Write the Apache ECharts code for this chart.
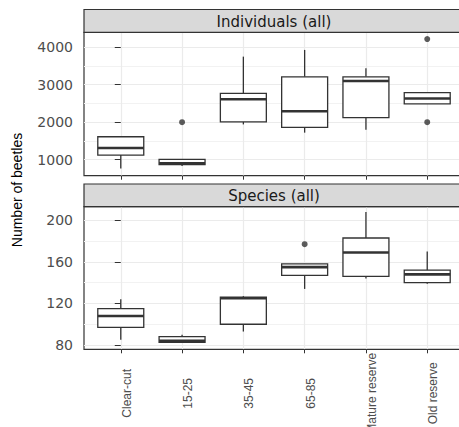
<!DOCTYPE html>
<html><head><meta charset="utf-8">
<script src="https://cdn.jsdelivr.net/npm/echarts@6/dist/echarts.min.js"></script>
<style>html,body{margin:0;padding:0;background:#fff}#c{width:459px;height:427px}</style>
</head><body><div id="c"></div>
<script>
// ---- data ----
const categories = ['Clear-cut', '15-25', '35-45', '65-85', 'Mature reserve', 'Old reserve'];
// [lower whisker, Q1, median, Q3, upper whisker]
const individualsBoxes = [
  [760, 1120, 1310, 1610, 1610],
  [830, 865, 900, 1005, 1005],
  [1940, 2010, 2610, 2770, 3750],
  [1720, 1860, 2290, 3210, 3930],
  [1800, 2120, 3100, 3210, 3440],
  [2490, 2490, 2630, 2790, 2790]
];
const individualsOutliers = [[1, 2000], [5, 4220], [5, 2000]];
const speciesBoxes = [
  [85, 97, 108, 115, 124],
  [82.6, 82.6, 84, 88, 90],
  [93, 100, 125, 126, 127],
  [134, 147, 155, 158, 158],
  [144, 146, 169, 183, 208],
  [139, 140, 148, 152, 170]
];
const speciesOutliers = [[3, 177]];
const individualsTicks = [1000, 2000, 3000, 4000];
const individualsMinor = [1500, 2500, 3500];
const speciesTicks = [80, 120, 160, 200];
const speciesMinor = [100, 140, 180];
const individualsRange = [570, 4400];
const speciesRange = [75.9, 213.1];
const panelTitles = ['Individuals (all)', 'Species (all)'];
const yTitle = 'Number of beetles';

// ---- chart ----
const chart = echarts.init(document.getElementById('c'), null, {renderer: 'svg'});
const DARK = '#333333';
const GRID = '#EBEBEB';

function mainY(gridIndex, range, ticks) {
  return {
    type: 'value', gridIndex, min: range[0], max: range[1],
    axisLine: {show: false},
    axisTick: {show: true, length: 6, customValues: ticks, lineStyle: {color: DARK, width: 1}},
    axisLabel: {customValues: ticks, formatter: v => String(v), color: '#4D4D4D',
      fontSize: 14, fontFamily: 'DejaVu Sans', margin: 11},
    splitLine: {show: true, lineStyle: {color: GRID, width: 1.2}}
  };
}
function minorY(gridIndex, range, ticks) {
  return {
    type: 'value', gridIndex, min: range[0], max: range[1], position: 'left',
    axisLine: {show: false},
    axisTick: {show: false, customValues: ticks},
    axisLabel: {show: false, customValues: ticks},
    splitLine: {show: true, lineStyle: {color: '#F2F2F2', width: 1}}
  };
}
function hiddenX(gridIndex) {
  // continuous x for the marks: category i sits at value i; ggplot pads 0.6 of a step on each side
  return {type: 'value', gridIndex, min: -0.6, max: categories.length - 0.4, show: false};
}
function catX(gridIndex, showLabels) {
  return {
    type: 'category', gridIndex, data: categories, boundaryGap: false,
    axisLine: {show: false},
    axisTick: {show: true, interval: 0, length: 4, lineStyle: {color: DARK, width: 1}},
    axisLabel: showLabels ? {show: true, interval: 0, rotate: 90, align: 'center', verticalAlign: 'top',
      margin: 44, fontSize: 12, fontFamily: 'Liberation Sans', color: '#4D4D4D'} : {show: false},
    splitLine: {show: true, interval: 0, lineStyle: {color: GRID, width: 1.2}}
  };
}
function boxRender(params, api) {
  const x = api.value(0);
  const p = d => api.coord([x, api.value(d)]);
  const lo = p(1), q1 = p(2), med = p(3), q3 = p(4), hi = p(5);
  const w = api.size([1, 0])[0] * 0.75;
  const st = {stroke: DARK, lineWidth: 1.3, fill: null};
  return {
    type: 'group', children: [
      {type: 'line', shape: {x1: lo[0], y1: lo[1], x2: q1[0], y2: q1[1]}, style: st},
      {type: 'line', shape: {x1: q3[0], y1: q3[1], x2: hi[0], y2: hi[1]}, style: st},
      {type: 'rect', shape: {x: q3[0] - w / 2, y: q3[1], width: w, height: q1[1] - q3[1]},
        style: {stroke: DARK, lineWidth: 1.3, fill: '#fff'}},
      {type: 'line', shape: {x1: med[0] - w / 2, y1: med[1], x2: med[0] + w / 2, y2: med[1]},
        style: {stroke: DARK, lineWidth: 2.6}}
    ]
  };
}
function boxSeries(xi, yi, boxes) {
  return {
    type: 'custom', xAxisIndex: xi, yAxisIndex: yi, renderItem: boxRender,
    data: boxes.map((b, i) => [i].concat(b)),
    encode: {x: 0, y: [1, 2, 3, 4, 5]}, silent: true, clip: false
  };
}
function outlierSeries(xi, yi, pts) {
  return {
    type: 'scatter', xAxisIndex: xi, yAxisIndex: yi, symbol: 'circle', symbolSize: 6,
    data: pts, itemStyle: {color: DARK}, silent: true, z: 3
  };
}

const gridBase = {outerBoundsMode: 'none', containLabel: false};
const option = {
  animation: false,
  backgroundColor: '#fff',
  grid: [
    Object.assign({left: 84, right: -5, top: 32.3, bottom: 251.3, show: true, backgroundColor: '#fff', borderColor: DARK, borderWidth: 1.2}, gridBase),
    Object.assign({left: 121, right: 32, top: 32.3, bottom: 251.3}, gridBase),
    Object.assign({left: 84, right: -5, top: 206.7, bottom: 77.7, show: true, backgroundColor: '#fff', borderColor: DARK, borderWidth: 1.2}, gridBase),
    Object.assign({left: 121, right: 32, top: 206.7, bottom: 77.7}, gridBase)
  ],
  xAxis: [
    hiddenX(0),
    catX(1, false),
    hiddenX(2),
    catX(3, true)
  ],
  yAxis: [
    mainY(0, individualsRange, individualsTicks),
    minorY(0, individualsRange, individualsMinor),
    {type: 'value', gridIndex: 1, min: individualsRange[0], max: individualsRange[1], show: false},
    mainY(2, speciesRange, speciesTicks),
    minorY(2, speciesRange, speciesMinor),
    {type: 'value', gridIndex: 3, min: speciesRange[0], max: speciesRange[1], show: false}
  ],
  series: [
    boxSeries(0, 0, individualsBoxes),
    outlierSeries(0, 0, individualsOutliers),
    boxSeries(2, 3, speciesBoxes),
    outlierSeries(2, 3, speciesOutliers)
  ],
  graphic: [
    {type: 'rect', shape: {x: 84, y: 9.5, width: 380, height: 22.8}, style: {fill: '#D9D9D9', stroke: DARK, lineWidth: 1.2}, z: 10},
    {type: 'text', x: 274, y: 21.5, style: {text: panelTitles[0], fill: '#1A1A1A', font: '15px "DejaVu Sans"', align: 'center', verticalAlign: 'middle'}, z: 11},
    {type: 'rect', shape: {x: 84, y: 184, width: 380, height: 22.7}, style: {fill: '#D9D9D9', stroke: DARK, lineWidth: 1.2}, z: 10},
    {type: 'text', x: 274, y: 196, style: {text: panelTitles[1], fill: '#1A1A1A', font: '15px "DejaVu Sans"', align: 'center', verticalAlign: 'middle'}, z: 11},
    {type: 'text', x: 16.5, y: 190, rotation: Math.PI / 2, style: {text: yTitle, fill: '#000', font: '14px "Liberation Sans"', align: 'center', verticalAlign: 'middle'}, z: 11}
  ]
};
chart.setOption(option);
</script>
</body></html>
